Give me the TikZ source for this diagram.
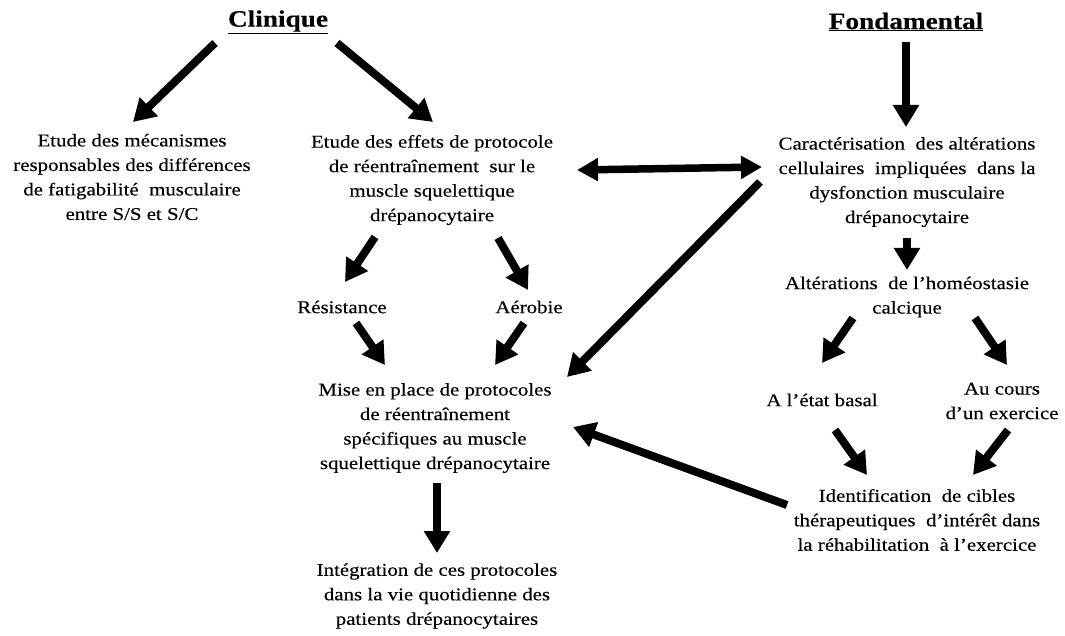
\documentclass[tikz,border=0pt]{standalone}
\usepackage{fontspec}
\setmainfont[FakeStretch=1.16,FakeBold=0.3]{Liberation Serif}
\usetikzlibrary{arrows.meta}
\begin{document}
\begin{tikzpicture}[x=1pt,y=-1pt,
  txt/.style={align=center, font=\fontsize{18}{24.5}\selectfont, inner sep=0pt},
  ttl/.style={font=\fontsize{23.5}{28}\selectfont\bfseries, inner sep=0pt},
  arr/.style={line width=8pt, -{Triangle[width=25pt,length=22pt]}},
  darr/.style={line width=7.5pt, {Triangle[width=22pt,length=21pt]}-{Triangle[width=22pt,length=21pt]}}]
\useasboundingbox[fill=white] (0,0) rectangle (1065,636);

% titles
\node[ttl] (clin) at (278,22) {\underline{Clinique}};
\node[ttl] (fond) at (906,22) {\underline{Fondamental}};

% nodes
\node[txt] (n1) at (132,177) {Etude des mécanismes\\responsables des différences\\de fatigabilité\ \ musculaire\\entre S/S et S/C};
\node[txt] (n2) at (432,180) {Etude des effets de protocole\\de réentraînement\ \ sur le\\muscle squelettique\\drépanocytaire};
\node[txt] (n3) at (907,182) {Caractérisation\ \ des altérations\\cellulaires\ \ impliquées\ \ dans la\\dysfonction musculaire\\drépanocytaire};
\node[txt] (res) at (342,307) {Résistance};
\node[txt] (aer) at (529,307) {Aérobie};
\node[txt] (n6) at (907,297) {Altérations\ \ de l’homéostasie\\calcique};
\node[txt] (n7) at (435,428) {Mise en place de protocoles\\de réentraînement\\spécifiques au muscle\\squelettique drépanocytaire};
\node[txt] (base) at (822,400) {A l’état basal};
\node[txt] (cours) at (1002,401) {Au cours\\d’un exercice};
\node[txt] (n10) at (917,520) {Identification\ \ de cibles\\thérapeutiques\ \ d’intérêt dans\\la réhabilitation\ \ à l’exercice};
\node[txt] (n11) at (437,596) {Intégration de ces protocoles\\dans la vie quotidienne des\\patients drépanocytaires};

% connector end points
\coordinate (clinL) at (215,43);   \coordinate (n1T) at (133,122);
\coordinate (clinR) at (337,43);   \coordinate (n2T) at (433,122);
\coordinate (fondB) at (906,42);   \coordinate (n3T) at (906,127);
\coordinate (n2R) at (577,170);    \coordinate (n3L) at (762,167);
\coordinate (n3D) at (760,182);    \coordinate (n7R) at (567,377);
\coordinate (n2BL) at (375,237);   \coordinate (resT) at (345,282);
\coordinate (n2BR) at (498,238);   \coordinate (aerT) at (528,290);
\coordinate (resB) at (356,323);   \coordinate (n7TL) at (385,365);
\coordinate (aerB) at (524,323);   \coordinate (n7TR) at (495,365);
\coordinate (n3B) at (907,238);    \coordinate (n6T) at (907,270);
\coordinate (n6BL) at (853,318);   \coordinate (baseT) at (822,363);
\coordinate (n6BR) at (975,318);   \coordinate (coursT) at (1007,365);
\coordinate (baseB) at (835,430);  \coordinate (n10TL) at (867,475);
\coordinate (coursB) at (1008,430);\coordinate (n10TR) at (973,475);
\coordinate (n10L) at (787,505);   \coordinate (n7RB) at (573,427);
\coordinate (n7B) at (437,483);    \coordinate (n11T) at (437,553);

\draw[arr] (clinL) -- (n1T);
\draw[arr] (clinR) -- (n2T);
\draw[arr] (fondB) -- (n3T);
\draw[darr] (n2R) -- (n3L);
\draw[arr] (n3D) -- (n7R);
\draw[arr] (n2BL) -- (resT);
\draw[arr] (n2BR) -- (aerT);
\draw[arr] (resB) -- (n7TL);
\draw[arr] (aerB) -- (n7TR);
\draw[arr] (n3B) -- (n6T);
\draw[arr] (n6BL) -- (baseT);
\draw[arr] (n6BR) -- (coursT);
\draw[arr] (baseB) -- (n10TL);
\draw[arr] (coursB) -- (n10TR);
\draw[arr] (n10L) -- (n7RB);
\draw[arr] (n7B) -- (n11T);
\end{tikzpicture}
\end{document}
